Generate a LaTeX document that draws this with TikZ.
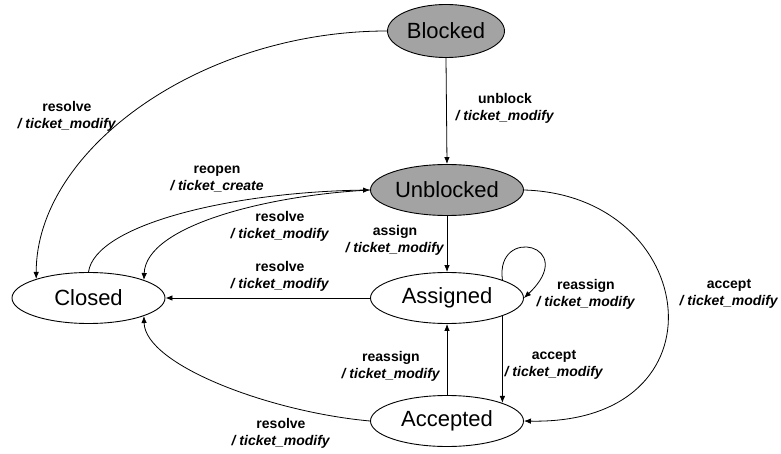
\documentclass[tikz,border=0pt]{standalone}
\usepackage{fontspec}
\setmainfont{Liberation Sans}
\usetikzlibrary{shapes.geometric,arrows.meta}

\definecolor{stategray}{RGB}{163,163,163}
% two-line transition label: event in bold, action in bold italic
\newcommand\tlab[2]{\textbf{#1}\\\textbf{\itshape / #2}}

\begin{document}
\begin{tikzpicture}[x=1pt,y=-1pt,
  state/.style={ellipse,draw,line width=0.9pt,inner sep=0pt,
    minimum width=153pt,minimum height=51pt,
    font=\fontsize{22}{26}\selectfont},
  active/.style={state,fill=stategray},
  lbl/.style={align=center,inner sep=0pt,font=\fontsize{14}{17}\selectfont},
  trans/.style={line width=0.8pt,-{Latex[length=7pt,width=5.5pt]}}]

\useasboundingbox (0,0) rectangle (781,454);

% states
\node[active,minimum width=117pt,minimum height=53pt] (blocked) at (446,31) {Blocked};
\node[active]  (unblocked) at (447,190) {Unblocked};
\node[state]   (assigned)  at (447,298) {Assigned};
\node[state]   (closed)    at (88.5,298) {Closed};
\node[state]   (accepted)  at (447,421) {Accepted};

% transitions
\draw[trans] (blocked.south) -- (unblocked.north);
\draw[trans] (blocked.west) .. controls (200,31) and (36,150) .. (closed.160);
\draw[trans] (closed.north) .. controls (95,225) and (230,192) .. (unblocked.west);
\draw[trans] (unblocked.west) .. controls (270,195) and (146,225) .. (closed.18);
\draw[trans] (assigned.west) -- (closed.east);
\draw[trans] (unblocked.south) -- (assigned.north);
\draw[trans] (assigned.18) .. controls (495,225) and (580,245) .. (assigned.east);
\draw[trans] (assigned.-18) -- (accepted.18);
\draw[trans] (accepted.north) -- (assigned.south);
\draw[trans] (accepted.west) .. controls (270,412) and (145,365) .. (closed.-18);
\draw[trans] (unblocked.east) .. controls (700,195) and (730,425) .. (accepted.east);

% transition labels
\node[lbl] (l-unblock)   at (505,108) {\tlab{unblock}{ticket\_modify}};
\node[lbl] (l-bresolve)  at (67,116)  {\tlab{resolve}{ticket\_modify}};
\node[lbl] (l-reopen)    at (217,179) {\tlab{reopen}{ticket\_create}};
\node[lbl] (l-uresolve)  at (280,226) {\tlab{resolve}{ticket\_modify}};
\node[lbl] (l-aresolve)  at (280,276) {\tlab{resolve}{ticket\_modify}};
\node[lbl] (l-assign)    at (395,240) {\tlab{assign}{ticket\_modify}};
\node[lbl] (l-reassign)  at (586,294) {\tlab{reassign}{ticket\_modify}};
\node[lbl] (l-uaccept)   at (729,294) {\tlab{accept}{ticket\_modify}};
\node[lbl] (l-aaccept)   at (554,365) {\tlab{accept}{ticket\_modify}};
\node[lbl] (l-reassign2) at (391,366) {\tlab{reassign}{ticket\_modify}};
\node[lbl] (l-cresolve)  at (281,433) {\tlab{resolve}{ticket\_modify}};
\end{tikzpicture}
\end{document}
